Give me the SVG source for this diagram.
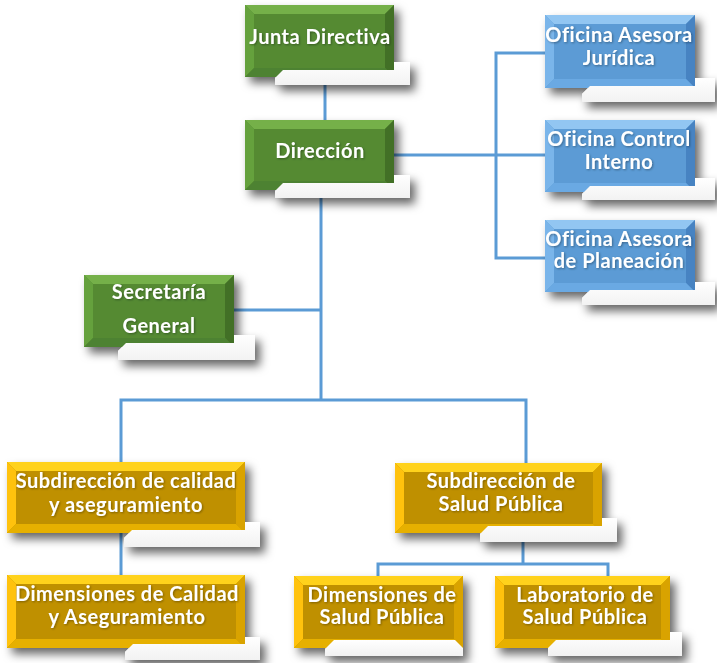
<svg xmlns="http://www.w3.org/2000/svg" width="717" height="663" viewBox="0 0 717 663">
<defs>
<style>
.g .face{fill:#548a33}.g .top{fill:#74b04a}.g .left{fill:#65a13d}.g .right{fill:#436f28}.g .bot{fill:#4e8230}
.b .face{fill:#5b9bd5}.b .top{fill:#92c6f2}.b .left{fill:#7ab5ea}.b .right{fill:#4683c2}.b .bot{fill:#6aa9e3}
.y .face{fill:#bf9000}.y .top{fill:#ffd21a}.y .left{fill:#ffc20e}.y .right{fill:#d9a300}.y .bot{fill:#e6b000}
.w{fill:url(#wg)}
.t{fill:#fff;font-family:Lato,"Open Sans",sans-serif;font-weight:bold;font-size:20px;letter-spacing:0.5px;text-anchor:middle;filter:url(#ts)}
.c{fill:none;stroke:#5b9bd5;stroke-width:3}
</style>
<linearGradient id="wg" x1="0" y1="0" x2="0" y2="1"><stop offset="0" stop-color="#ffffff"/><stop offset="1" stop-color="#f2f2f2"/></linearGradient>
<filter id="sh" x="-20%" y="-20%" width="150%" height="160%"><feDropShadow dx="5" dy="6" stdDeviation="5" flood-color="#000" flood-opacity="0.6"/></filter>
<filter id="ts" x="-10%" y="-30%" width="120%" height="160%"><feDropShadow dx="1" dy="1" stdDeviation="1" flood-color="#000" flood-opacity="0.35"/></filter>
</defs>
<rect width="717" height="663" fill="#fff"/>
<g id="connectors" class="c">
<path d="M325,77V120"/>
<path d="M394,155H545"/>
<path d="M545,53H496V258H545"/>
<path d="M321,190V400"/>
<path d="M234,310H321"/>
<path d="M121,462V400H526V463"/>
<path d="M121,533V575"/>
<path d="M523,533V564"/>
<path d="M378,576V564H608V576"/>
</g>
<g id="junta" class="g" filter="url(#sh)">
<rect class="face" x="245" y="5" width="149" height="72"/>
<polygon class="top" points="245,5 394,5 385,14 254,14"/>
<polygon class="left" points="245,5 254,14 254,68 245,77"/>
<polygon class="right" points="394,5 394,77 385,68 385,14"/>
<polygon class="bot" points="245,77 254,68 385,68 394,77"/>
<polygon class="w" points="275,85 275,78 283,70 394,70 394,62 410,62 410,85"/>
<text class="t" x="320" y="44">Junta Directiva</text>
</g>
<g id="direccion" class="g" filter="url(#sh)">
<rect class="face" x="245" y="120" width="149" height="70"/>
<polygon class="top" points="245,120 394,120 385,129 254,129"/>
<polygon class="left" points="245,120 254,129 254,181 245,190"/>
<polygon class="right" points="394,120 394,190 385,181 385,129"/>
<polygon class="bot" points="245,190 254,181 385,181 394,190"/>
<polygon class="w" points="275,198 275,191 283,183 394,183 394,175 410,175 410,198"/>
<text class="t" x="320" y="158">Dirección</text>
</g>
<g id="juridica" class="b" filter="url(#sh)">
<rect class="face" x="545" y="15" width="150" height="73"/>
<polygon class="top" points="545,15 695,15 686,24 554,24"/>
<polygon class="left" points="545,15 554,24 554,79 545,88"/>
<polygon class="right" points="695,15 695,88 686,79 686,24"/>
<polygon class="bot" points="545,88 554,79 686,79 695,88"/>
<polygon class="w" points="582,102 582,94 590,86 695,86 695,78 715,78 715,102"/>
<text class="t" x="619" y="42">Oficina Asesora</text>
<text class="t" x="619" y="65">Jurídica</text>
</g>
<g id="control" class="b" filter="url(#sh)">
<rect class="face" x="545" y="120" width="150" height="72"/>
<polygon class="top" points="545,120 695,120 686,129 554,129"/>
<polygon class="left" points="545,120 554,129 554,183 545,192"/>
<polygon class="right" points="695,120 695,192 686,183 686,129"/>
<polygon class="bot" points="545,192 554,183 686,183 695,192"/>
<polygon class="w" points="582,200 582,194 590,186 695,186 695,178 715,178 715,200"/>
<text class="t" x="619" y="146">Oficina Control</text>
<text class="t" x="619" y="169">Interno</text>
</g>
<g id="planeacion" class="b" filter="url(#sh)">
<rect class="face" x="545" y="220" width="150" height="72"/>
<polygon class="top" points="545,220 695,220 686,229 554,229"/>
<polygon class="left" points="545,220 554,229 554,283 545,292"/>
<polygon class="right" points="695,220 695,292 686,283 686,229"/>
<polygon class="bot" points="545,292 554,283 686,283 695,292"/>
<polygon class="w" points="582,305 582,298 590,290 695,290 695,282 715,282 715,305"/>
<text class="t" x="619" y="246">Oficina Asesora</text>
<text class="t" x="619" y="268">de Planeación</text>
</g>
<g id="secretaria" class="g" filter="url(#sh)">
<rect class="face" x="84" y="275" width="150" height="72"/>
<polygon class="top" points="84,275 234,275 225,284 93,284"/>
<polygon class="left" points="84,275 93,284 93,338 84,347"/>
<polygon class="right" points="234,275 234,347 225,338 225,284"/>
<polygon class="bot" points="84,347 93,338 225,338 234,347"/>
<polygon class="w" points="118,360 118,351 126,343 234,343 234,335 255,335 255,360"/>
<text class="t" x="159" y="299">Secretaría</text>
<text class="t" x="159" y="333">General</text>
</g>
<g id="subcalidad" class="y" filter="url(#sh)">
<rect class="face" x="7" y="462" width="238" height="71"/>
<polygon class="top" points="7,462 245,462 236,471 16,471"/>
<polygon class="left" points="7,462 16,471 16,524 7,533"/>
<polygon class="right" points="245,462 245,533 236,524 236,471"/>
<polygon class="bot" points="7,533 16,524 236,524 245,533"/>
<polygon class="w" points="124,547 124,538 132,530 245,530 245,522 260,522 260,547"/>
<text class="t" x="126" y="488">Subdirección de calidad</text>
<text class="t" x="126" y="512">y aseguramiento</text>
</g>
<g id="subsalud" class="y" filter="url(#sh)">
<rect class="face" x="395" y="463" width="207" height="70"/>
<polygon class="top" points="395,463 602,463 593,472 404,472"/>
<polygon class="left" points="395,463 404,472 404,524 395,533"/>
<polygon class="right" points="602,463 602,533 593,524 593,472"/>
<polygon class="bot" points="395,533 404,524 593,524 602,533"/>
<polygon class="w" points="480,542 480,534 488,526 602,526 602,518 617,518 617,542"/>
<text class="t" x="501" y="488">Subdirección de</text>
<text class="t" x="501" y="511">Salud Pública</text>
</g>
<g id="dimcalidad" class="y" filter="url(#sh)">
<rect class="face" x="7" y="575" width="238" height="73"/>
<polygon class="top" points="7,575 245,575 236,584 16,584"/>
<polygon class="left" points="7,575 16,584 16,639 7,648"/>
<polygon class="right" points="245,575 245,648 236,639 236,584"/>
<polygon class="bot" points="7,648 16,639 236,639 245,648"/>
<polygon class="w" points="125,660 125,652 133,644 245,644 245,637 260,637 260,660"/>
<text class="t" x="127" y="601">Dimensiones de Calidad</text>
<text class="t" x="127" y="624">y Aseguramiento</text>
</g>
<g id="dimsalud" class="y" filter="url(#sh)">
<rect class="face" x="294" y="576" width="169" height="72"/>
<polygon class="top" points="294,576 463,576 454,585 303,585"/>
<polygon class="left" points="294,576 303,585 303,639 294,648"/>
<polygon class="right" points="463,576 463,648 454,639 454,585"/>
<polygon class="bot" points="294,648 303,639 454,639 463,648"/>
<polygon class="w" points="325,656 325,649 334,640 455,640 463,648 463,656"/>
<text class="t" x="382" y="602">Dimensiones de</text>
<text class="t" x="382" y="624">Salud Pública</text>
</g>
<g id="laboratorio" class="y" filter="url(#sh)">
<rect class="face" x="495" y="576" width="175" height="72"/>
<polygon class="top" points="495,576 670,576 661,585 504,585"/>
<polygon class="left" points="495,576 504,585 504,639 495,648"/>
<polygon class="right" points="670,576 670,648 661,639 661,585"/>
<polygon class="bot" points="495,648 504,639 661,639 670,648"/>
<polygon class="w" points="548,656 548,648 556,640 670,640 670,632 682,632 682,656"/>
<text class="t" x="585" y="602">Laboratorio de</text>
<text class="t" x="585" y="624">Salud Pública</text>
</g>
</svg>
